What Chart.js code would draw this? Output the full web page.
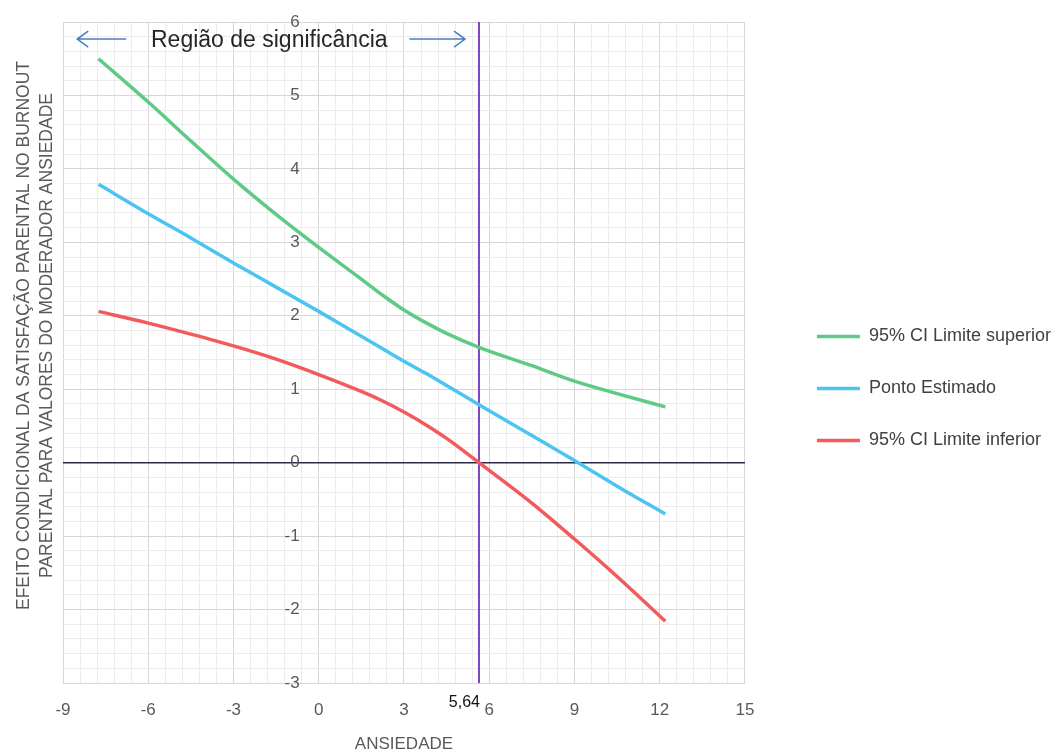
<!DOCTYPE html>
<html>
<head>
    <title>Região de significância - Ansiedade</title>
    <script src="https://cdn.jsdelivr.net/npm/chart.js"></script>
    <style>
        body { margin: 0; background: #fff; }
        #box { width: 1062px; height: 755px; }
    </style>
</head>
<body>
    <div id="box"><canvas id="jnChart"></canvas></div>
    <script>
        // valores do moderador (ansiedade)
        const ansiedade = [-7.75, -6, -4.5, -3, -1.5, 0, 1.5, 2.25, 3, 3.75, 4.5, 5.64, 7.5, 9, 10.5, 12.2];
        // efeito condicional
        const limiteSuperior = [5.50, 4.91, 4.38, 3.86, 3.38, 2.93, 2.50, 2.28, 2.08, 1.91, 1.76, 1.57, 1.32, 1.11, 0.94, 0.76];
        const pontoEstimado  = [3.79, 3.39, 3.06, 2.72, 2.39, 2.06, 1.72, 1.55, 1.38, 1.22, 1.05, 0.79, 0.37, 0.03, -0.32, -0.70];
        const limiteInferior = [2.06, 1.90, 1.75, 1.59, 1.41, 1.20, 0.97, 0.84, 0.69, 0.52, 0.33, 0.00, -0.55, -1.04, -1.55, -2.16];

        const seriesNames = ["95% CI Limite superior", "Ponto Estimado", "95% CI Limite inferior"];
        const seriesColors = ["#5fca86", "#4cc4f2", "#f25a5c"];

        // ponto de Johnson-Neyman
        const jnValue = 5.64;
        const jnLabel = "5,64";
        const yRange = [-3, 6];
        const xRange = [-9, 15];

        const titleText = "Região de significância";
        const yTitle = ["EFEITO CONDICIONAL DA SATISFAÇÃO PARENTAL NO BURNOUT",
                        "PARENTAL PARA VALORES DO MODERADOR ANSIEDADE"];
        const xTitle = "ANSIEDADE";

        const FONT = "'Liberation Sans', Arial, sans-serif";
        const GRAY_TXT = "#595959";
        const MAJOR = "#d6d6d6";
        const MINOR = "#ececec";

        function near(v, step) {
            const r = v / step;
            return Math.abs(r - Math.round(r)) < 1e-6;
        }

        function toPoints(ys) {
            return ansiedade.map((x, i) => ({ x: x, y: ys[i] }));
        }

        function drawArrow(ctx, x1, y, x2) {
            const dir = Math.sign(x2 - x1);
            ctx.beginPath();
            ctx.moveTo(x1, y);
            ctx.lineTo(x2, y);
            ctx.moveTo(x2 - dir * 11, y - 8);
            ctx.lineTo(x2, y);
            ctx.lineTo(x2 - dir * 11, y + 8);
            ctx.stroke();
        }

        // texto e setas da região de significância, rótulo do ponto J-N e título do eixo y
        const regiaoPlugin = {
            id: "regiao",
            afterDraw(chart) {
                const { ctx, chartArea } = chart;
                const xs = chart.scales.x, ys = chart.scales.y;
                ctx.save();
                const ty = ys.getPixelForValue(5.74);
                ctx.font = "23px " + FONT;
                ctx.fillStyle = "#262626";
                ctx.textAlign = "center";
                ctx.textBaseline = "middle";
                ctx.fillText(titleText, xs.getPixelForValue(-1.74), ty);

                ctx.strokeStyle = "#4a7ebb";
                ctx.lineWidth = 1.5;
                drawArrow(ctx, xs.getPixelForValue(-6.78), ty - 2, xs.getPixelForValue(-8.5));
                drawArrow(ctx, xs.getPixelForValue(3.19), ty - 2, xs.getPixelForValue(5.15));

                ctx.font = "16px " + FONT;
                ctx.fillStyle = "#111";
                ctx.textAlign = "right";
                ctx.fillText(jnLabel, xs.getPixelForValue(jnValue) + 1, chartArea.bottom + 20);

                // título do eixo y em duas linhas
                const left = chart.scales.yTitulo.left;
                const midY = (chartArea.top + chartArea.bottom) / 2 - 17;
                ctx.font = "17.5px " + FONT;
                ctx.fillStyle = GRAY_TXT;
                ctx.textAlign = "center";
                yTitle.forEach((line, i) => {
                    ctx.save();
                    ctx.translate(left + 24 + i * 23, midY);
                    ctx.rotate(-Math.PI / 2);
                    ctx.fillText(line, 0, 0);
                    ctx.restore();
                });
                ctx.restore();
            }
        };

        const datasets = seriesNames.map((name, i) => ({
            label: name,
            data: toPoints([limiteSuperior, pontoEstimado, limiteInferior][i]),
            borderColor: seriesColors[i],
            backgroundColor: seriesColors[i],
            borderWidth: 3.5,
            pointRadius: 0,
            showLine: true,
            cubicInterpolationMode: "monotone"
        }));
        datasets.push({
            label: "J-N",
            data: [{ x: jnValue, y: yRange[0] }, { x: jnValue, y: yRange[1] }],
            borderColor: "#7b45c2",
            borderWidth: 2,
            pointRadius: 0,
            showLine: true
        });

        new Chart(document.getElementById("jnChart"), {
            type: "scatter",
            data: { datasets: datasets },
            options: {
                responsive: true,
                maintainAspectRatio: false,
                animation: false,
                layout: { padding: { top: 22, right: 1, left: 0, bottom: 0 } },
                plugins: {
                    tooltip: { enabled: false },
                    legend: {
                        position: "right",
                        align: "center",
                        maxWidth: 320,
                        labels: {
                            usePointStyle: true,
                            pointStyle: "line",
                            pointStyleWidth: 43,
                            padding: 34,
                            color: "#404040",
                            font: { family: FONT, size: 18 },
                            filter: item => item.datasetIndex < 3
                        }
                    }
                },
                scales: {
                    x: {
                        type: "linear",
                        position: "bottom",
                        min: xRange[0],
                        max: xRange[1],
                        afterFit: s => { s.height = 72; },
                        border: { display: false },
                        grid: {
                            drawTicks: false,
                            color: c => (c.tick && near(c.tick.value, 3)) ? MAJOR : MINOR
                        },
                        ticks: {
                            stepSize: 0.6,
                            autoSkip: false,
                            maxRotation: 0,
                            padding: 17,
                            color: GRAY_TXT,
                            font: { family: FONT, size: 17 },
                            callback: v => near(v, 3) ? String(Math.round(v)) : ""
                        },
                        title: {
                            display: true,
                            text: xTitle,
                            color: GRAY_TXT,
                            font: { family: FONT, size: 17 },
                            padding: { top: 0, bottom: 0 }
                        }
                    },
                    y: {
                        type: "linear",
                        // rótulos alinhados um pouco à esquerda do eixo x = 0
                        position: { x: -0.67 },
                        min: yRange[0],
                        max: yRange[1],
                        border: { display: false },
                        grid: {
                            drawTicks: false,
                            color: c => {
                                if (!c.tick) return MINOR;
                                if (Math.abs(c.tick.value) < 1e-6) return "#2b2b48";
                                return near(c.tick.value, 1) ? MAJOR : MINOR;
                            },
                            lineWidth: c => (c.tick && Math.abs(c.tick.value) < 1e-6) ? 1.6 : 1
                        },
                        ticks: {
                            stepSize: 0.2,
                            autoSkip: false,
                            padding: 0,
                            color: GRAY_TXT,
                            font: { family: FONT, size: 17 },
                            callback: v => near(v, 1) ? String(Math.round(v)) : ""
                        }
                    },
                    yTitulo: {
                        type: "linear",
                        position: "left",
                        min: 0,
                        max: 1,
                        afterFit: s => { s.width = 63; },
                        border: { display: false },
                        grid: { display: false },
                        ticks: { display: false }
                    },
                    espaco: {
                        type: "linear",
                        position: "right",
                        min: 0,
                        max: 1,
                        afterFit: s => { s.width = 38; },
                        border: { display: false },
                        grid: { display: false },
                        ticks: { display: false }
                    }
                }
            },
            plugins: [regiaoPlugin]
        });
    </script>
</body>
</html>
